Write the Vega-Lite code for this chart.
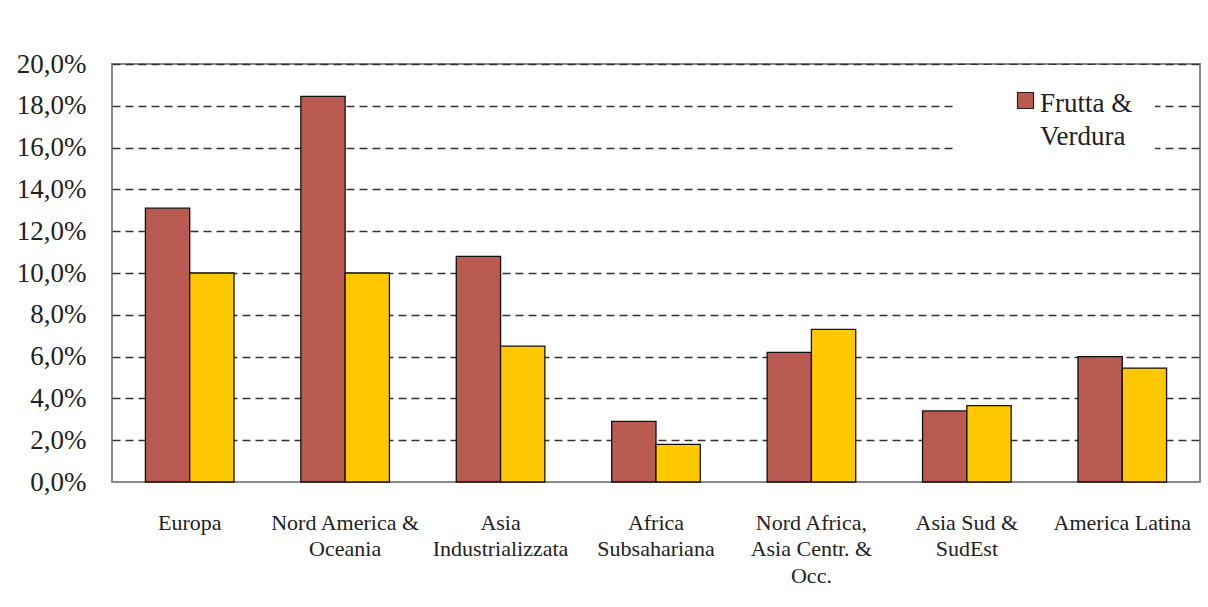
{
  "$schema": "https://vega.github.io/schema/vega-lite/v6.json",
  "width": 1088,
  "height": 418,
  "autosize": {"type": "none"},
  "padding": {"left": 112, "top": 64, "right": 8, "bottom": 125},
  "background": "white",
  "data": {
    "values": [
      {"regione": "Europa", "serie": "Frutta & Verdura", "valore": 0.131},
      {"regione": "Europa", "serie": "Totale", "valore": 0.100},
      {"regione": "Nord America &|Oceania", "serie": "Frutta & Verdura", "valore": 0.1845},
      {"regione": "Nord America &|Oceania", "serie": "Totale", "valore": 0.100},
      {"regione": "Asia|Industrializzata", "serie": "Frutta & Verdura", "valore": 0.108},
      {"regione": "Asia|Industrializzata", "serie": "Totale", "valore": 0.065},
      {"regione": "Africa|Subsahariana", "serie": "Frutta & Verdura", "valore": 0.029},
      {"regione": "Africa|Subsahariana", "serie": "Totale", "valore": 0.018},
      {"regione": "Nord Africa,|Asia Centr. &|Occ.", "serie": "Frutta & Verdura", "valore": 0.062},
      {"regione": "Nord Africa,|Asia Centr. &|Occ.", "serie": "Totale", "valore": 0.073},
      {"regione": "Asia Sud &|SudEst", "serie": "Frutta & Verdura", "valore": 0.034},
      {"regione": "Asia Sud &|SudEst", "serie": "Totale", "valore": 0.0365},
      {"regione": "America Latina", "serie": "Frutta & Verdura", "valore": 0.060},
      {"regione": "America Latina", "serie": "Totale", "valore": 0.0545}
    ]
  },
  "mark": {"type": "bar", "stroke": "#111111", "strokeWidth": 1.3},
  "encoding": {
    "x": {
      "field": "regione",
      "type": "nominal",
      "sort": null,
      "scale": {"paddingInner": 0.43, "paddingOuter": 0.215},
      "axis": {
        "title": null,
        "labelAngle": 0,
        "labelExpr": "split(datum.label, '|')",
        "labelFont": "Liberation Serif",
        "labelFontSize": 22,
        "labelLineHeight": 26.5,
        "labelPadding": 30,
        "labelBaseline": "top",
        "labelColor": "#222222",
        "labelLimit": 300,
        "ticks": false,
        "domain": false
      }
    },
    "xOffset": {"field": "serie", "type": "nominal", "sort": ["Frutta & Verdura", "Totale"]},
    "y": {
      "field": "valore",
      "type": "quantitative",
      "scale": {"domain": [0, 0.2], "nice": false},
      "axis": {
        "title": null,
        "values": [0, 0.02, 0.04, 0.06, 0.08, 0.1, 0.12, 0.14, 0.16, 0.18, 0.2],
        "labelExpr": "replace(format(datum.value, '.1%'), '.', ',')",
        "labelFont": "Liberation Serif",
        "labelFontSize": 27,
        "labelPadding": 26,
        "labelColor": "#222222",
        "ticks": false,
        "domain": false,
        "grid": true,
        "gridDash": [8, 5],
        "gridColor": {"condition": {"test": "datum.value == 0", "value": "transparent"}, "value": "#333333"},
        "gridWidth": 1.6
      }
    },
    "color": {
      "field": "serie",
      "type": "nominal",
      "scale": {"domain": ["Frutta & Verdura", "Totale"], "range": ["#B95B51", "#FFC800"]},
      "legend": {
        "orient": "none",
        "legendX": 843,
        "legendY": 1,
        "title": null,
        "values": ["Frutta & Verdura"],
        "labelExpr": "datum.label == 'Frutta & Verdura' ? ['Frutta &        ', 'Verdura'] : datum.label",
        "labelFont": "Liberation Serif",
        "labelFontSize": 27,
        "labelColor": "#222222",
        "labelBaseline": "alphabetic",
        "labelOffset": 1,
        "symbolOffset": 35,
        "symbolType": "square",
        "symbolSize": 256,
        "symbolStrokeColor": "#222222",
        "symbolStrokeWidth": 1.2,
        "fillColor": "white",
        "padding": 22,
        "encode": {
          "labels": {"update": {"lineHeight": {"value": 33}, "dy": {"value": 11}}}
        }
      }
    }
  },
  "config": {
    "font": "Liberation Serif",
    "view": {"stroke": "#8a8a8a", "strokeWidth": 2}
  }
}
